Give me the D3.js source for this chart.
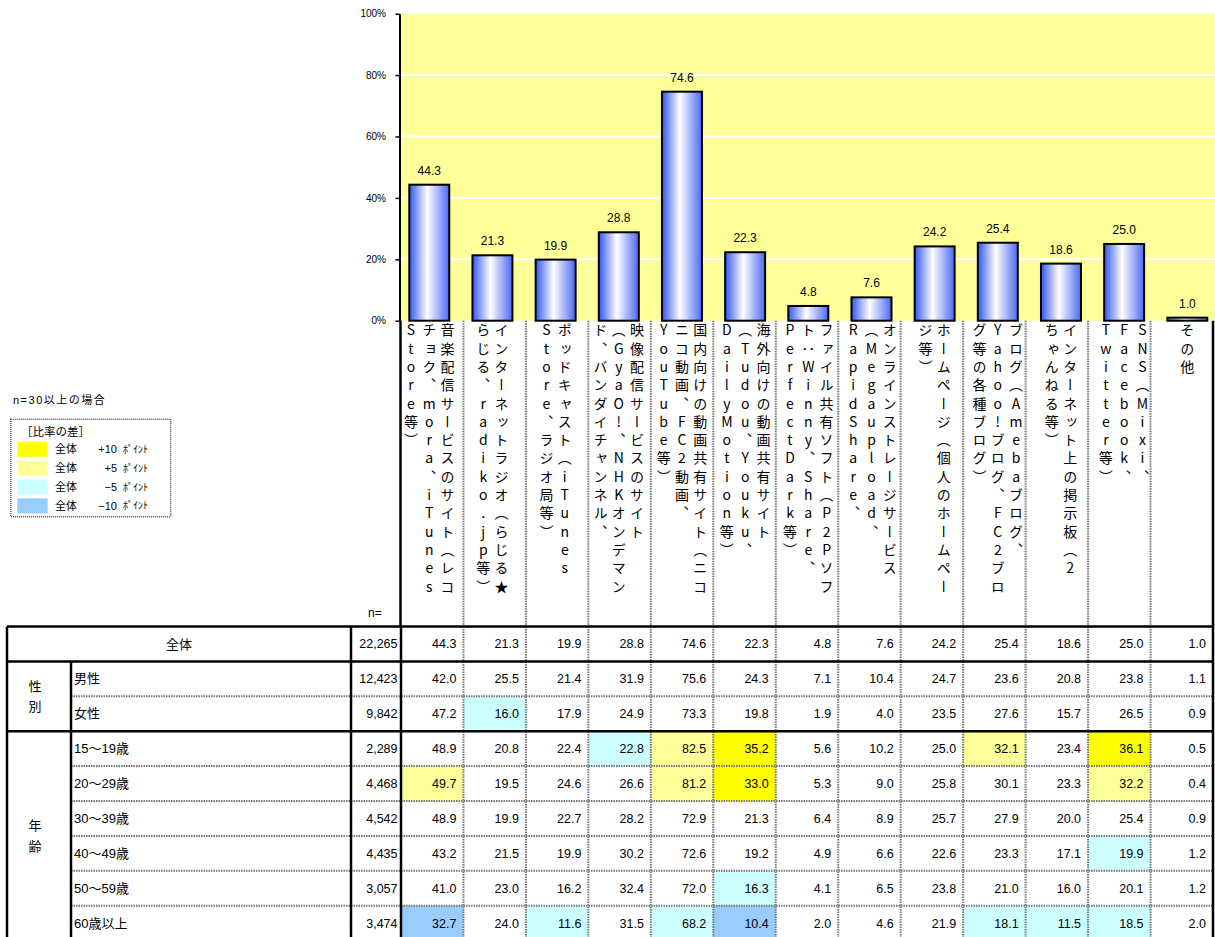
<!DOCTYPE html>
<html><head><meta charset="utf-8">
<script src="https://cdn.jsdelivr.net/npm/d3@7"></script>
<style>
body{margin:0;background:#fff}
svg{display:block}
text{font-family:"Liberation Sans","Noto Sans CJK JP",sans-serif;fill:#000}
</style>
</head><body>
<svg id="c" width="1215" height="937"></svg>
<script>
// ---------------- data ----------------
const categoryLabels = [
  ["音楽配信サービスのサイト（レコ","チョク、mora、iTunes","Store等）"],
  ["インターネットラジオ（らじる★","らじる、radiko.jp等）"],
  ["ポッドキャスト（iTunes","Store、ラジオ局等）"],
  ["映像配信サービスのサイト","（GyaO!、NHKオンデマン","ド、バンダイチャンネル、"],
  ["国内向けの動画共有サイト（ニコ","ニコ動画、FC2動画、","YouTube等）"],
  ["海外向けの動画共有サイト","（Tudou、Youku、","DailyMotion等）"],
  ["ファイル共有ソフト（P2Pソフ","ト：Winny、Share、","PerfectDark等）"],
  ["オンラインストレージサービス","（Megaupload、","RapidShare、"],
  ["ホームページ（個人のホームペー","ジ等）"],
  ["ブログ（Amebaブログ、","Yahoo!ブログ、FC2ブロ","グ等の各種ブログ）"],
  ["インターネット上の掲示板（2","ちゃんねる等）"],
  ["SNS（Mixi、","Facebook、","Twitter等）"],
  ["その他"]
];
const totalValues = [44.3,21.3,19.9,28.8,74.6,22.3,4.8,7.6,24.2,25.4,18.6,25.0,1.0];
const yTicks = [0,20,40,60,80,100];

const rowLabels = ["男性","女性","15～19歳","20～29歳","30～39歳","40～49歳","50～59歳","60歳以上"];
const rowGroups = ["性別","性別","年齢","年齢","年齢","年齢","年齢","年齢"];
const rowN = ["12,423","9,842","2,289","4,468","4,542","4,435","3,057","3,474"];
const totalN = "22,265";
const rowValues = [
  [42.0,25.5,21.4,31.9,75.6,24.3,7.1,10.4,24.7,23.6,20.8,23.8,1.1],
  [47.2,16.0,17.9,24.9,73.3,19.8,1.9,4.0,23.5,27.6,15.7,26.5,0.9],
  [48.9,20.8,22.4,22.8,82.5,35.2,5.6,10.2,25.0,32.1,23.4,36.1,0.5],
  [49.7,19.5,24.6,26.6,81.2,33.0,5.3,9.0,25.8,30.1,23.3,32.2,0.4],
  [48.9,19.9,22.7,28.2,72.9,21.3,6.4,8.9,25.7,27.9,20.0,25.4,0.9],
  [43.2,21.5,19.9,30.2,72.6,19.2,4.9,6.6,22.6,23.3,17.1,19.9,1.2],
  [41.0,23.0,16.2,32.4,72.0,16.3,4.1,6.5,23.8,21.0,16.0,20.1,1.2],
  [32.7,24.0,11.6,31.5,68.2,10.4,2.0,4.6,21.9,18.1,11.5,18.5,2.0]
];
const legendSigns = ["+10","+5","−5","−10"];
const legendThresholds = [10,5,-5,-10];
const legendColors = ["#FFFF00","#FFFF99","#CCFFFF","#99CCFF"];

// ---------------- drawing ----------------
const svg = d3.select("#c");
const idx = d3.range(categoryLabels.length);

const y = d3.scaleLinear().domain([0,100]).range([320.7,13.7]);
const xc = d3.scaleBand().domain(idx).range([397.7,1218.9]).paddingInner(0.367).paddingOuter(0.1835);
const xt = d3.scaleBand().domain(idx).range([401,1213]);

// gradient
const defs = svg.append("defs");
const g = defs.append("linearGradient").attr("id","barGrad").attr("x1","0").attr("x2","1").attr("y1","0").attr("y2","0");
g.append("stop").attr("offset","0").attr("stop-color","#3355f2");
g.append("stop").attr("offset","0.45").attr("stop-color","#ffffff");
g.append("stop").attr("offset","1").attr("stop-color","#4a68f5");

// plot background
svg.append("rect").attr("x",399).attr("y",y(100)).attr("width",1215-399).attr("height",y(0)-y(100)).attr("fill","#FFFF99");
// gridlines
svg.append("g").selectAll("line").data(yTicks.filter(d=>d>0&&d<100)).join("line")
  .attr("x1",400).attr("x2",1215).attr("y1",d=>y(d)).attr("y2",d=>y(d))
  .attr("stroke","#fff").attr("stroke-width",2);

// bars
svg.append("g").selectAll("rect").data(idx).join("rect")
  .attr("x",i=>xc(i)).attr("width",xc.bandwidth())
  .attr("y",i=>y(totalValues[i])).attr("height",i=>y(0)-y(totalValues[i]))
  .attr("fill","url(#barGrad)").attr("stroke","#000").attr("stroke-width",2);
// value labels
svg.append("g").selectAll("text").data(idx).join("text")
  .attr("x",i=>xc(i)+xc.bandwidth()/2).attr("y",i=>y(totalValues[i])-10)
  .attr("text-anchor","middle").attr("font-size",12)
  .text(i=>totalValues[i].toFixed(1));

// y axis
const ax = svg.append("g").attr("transform","translate(399.5,0)")
  .call(d3.axisLeft(y).tickValues(yTicks).tickFormat(d=>d+"%").tickSize(4).tickSizeOuter(0).tickPadding(9.5));
ax.select(".domain").attr("stroke","#000").attr("stroke-width",2);
ax.selectAll(".tick line").attr("stroke","#000").attr("stroke-width",1.5);
ax.selectAll(".tick text").attr("font-size",10).attr("font-family","Liberation Sans");

// axis line continues down into table
svg.append("line").attr("x1",400.5).attr("x2",400.5).attr("y1",y(0)).attr("y2",627).attr("stroke","#000").attr("stroke-width",2.5);
svg.append("line").attr("x1",1213).attr("x2",1213).attr("y1",y(0)).attr("y2",627).attr("stroke","#000").attr("stroke-width",2.5);
// label column separators
svg.append("g").selectAll("line").data(idx.slice(1)).join("line")
  .attr("x1",i=>xt(i)).attr("x2",i=>xt(i)).attr("y1",y(0)).attr("y2",627)
  .attr("stroke","#777").attr("stroke-width",2).attr("stroke-dasharray","1.5,1");

// vertical category labels
const pitch = 18.3;
const lab = svg.append("g");
idx.forEach(i=>{
  const cols = categoryLabels[i];
  const c = xc(i)+xc.bandwidth()/2;
  const n = cols.length;
  cols.forEach((s,j)=>{
    const cx = c + (n-1)*pitch/2 - j*pitch;
    lab.append("text")
      .attr("x",cx).attr("y",323)
      .attr("font-size",14)
      .style("font-family","'Noto Sans CJK JP'")
      .style("writing-mode","vertical-rl")
      .style("text-orientation","upright")
      .style("letter-spacing","4.3px")
      .text(s);
  });
});

svg.append("text").attr("x",368).attr("y",617).attr("font-size",12).text("n=");

// ---------------- table ----------------
const T = {left:7, grp:71, nL:351, nR:401, right:1213, top:626.5, rowH:34.9};
const ry = i => T.top + T.rowH*i; // i=0 全体
const tb = svg.append("g");

// highlight cells
rowValues.forEach((vals,r)=>{
  vals.forEach((v,i)=>{
    const d = v - totalValues[i];
    let col = null;
    if (d >= legendThresholds[0]) col = legendColors[0];
    else if (d >= legendThresholds[1]) col = legendColors[1];
    else if (d <= legendThresholds[3]) col = legendColors[3];
    else if (d <= legendThresholds[2]) col = legendColors[2];
    if (col) tb.append("rect").attr("x",xt(i)).attr("y",ry(r+1)).attr("width",xt.bandwidth()).attr("height",T.rowH).attr("fill",col);
  });
});

// dashed inner lines
const dash = (x1,y1,x2,y2)=>tb.append("line").attr("x1",x1).attr("y1",y1).attr("x2",x2).attr("y2",y2)
  .attr("stroke","#777").attr("stroke-width",2).attr("stroke-dasharray","1.5,1");
const solid = (x1,y1,x2,y2,w=2.5)=>tb.append("line").attr("x1",x1).attr("y1",y1).attr("x2",x2).attr("y2",y2)
  .attr("stroke","#000").attr("stroke-width",w);
idx.slice(1).forEach(i=>dash(xt(i),T.top,xt(i),940));
[2,4,5,6,7,8].forEach(r=>dash(T.grp,ry(r),T.right,ry(r)));
[0,1,3].forEach(r=>solid(T.left,ry(r),T.right,ry(r)));
solid(T.left,T.top,T.left,940);
solid(T.grp,ry(1),T.grp,940);
solid(T.nL,T.top,T.nL,940);
solid(T.nR,T.top,T.nR,940);
solid(T.right,T.top,T.right,940);

// 全体 row
tb.append("text").attr("x",(T.left+T.nL)/2).attr("y",ry(0)+T.rowH/2).attr("dy","0.35em")
  .attr("text-anchor","middle").attr("font-size",13).text("全体");
tb.append("text").attr("x",T.nR-3.5).attr("y",ry(0)+T.rowH/2).attr("dy","0.35em")
  .attr("text-anchor","end").attr("font-size",12.5).text(totalN);
idx.forEach(i=>tb.append("text").attr("x",xt(i)+xt.bandwidth()-7).attr("y",ry(0)+T.rowH/2).attr("dy","0.35em")
  .attr("text-anchor","end").attr("font-size",12.5).text(totalValues[i].toFixed(1)));

// group labels
const groups = Array.from(d3.group(rowGroups.map((g,r)=>({g,r})), d=>d.g), ([k,v])=>({k, r0:v[0].r, r1:v[v.length-1].r}));
groups.forEach(G=>{
  const cy = (ry(G.r0+1)+ry(G.r1+2))/2;
  const chars = Array.from(G.k);
  chars.forEach((ch,j)=>tb.append("text").attr("x",35).attr("y",cy + (j-(chars.length-1)/2)*20.5).attr("dy","0.35em")
    .attr("text-anchor","middle").attr("font-size",13).text(ch));
});

rowLabels.forEach((lab,r)=>{
  const cy = ry(r+1)+T.rowH/2;
  tb.append("text").attr("x",74).attr("y",cy).attr("dy","0.35em").attr("font-size",13).text(lab);
  tb.append("text").attr("x",T.nR-3.5).attr("y",cy).attr("dy","0.35em").attr("text-anchor","end").attr("font-size",12.5).text(rowN[r]);
  rowValues[r].forEach((v,i)=>tb.append("text").attr("x",xt(i)+xt.bandwidth()-7).attr("y",cy).attr("dy","0.35em")
    .attr("text-anchor","end").attr("font-size",12.5).text(v.toFixed(1)));
});

// ---------------- legend ----------------
const lg = svg.append("g");
lg.append("text").attr("x",13).attr("y",404).attr("font-size",11).style("letter-spacing","1.5px").text("n=30以上の場合");
lg.append("rect").attr("x",10.7).attr("y",419.3).attr("width",160).attr("height",97.4)
  .attr("fill","none").attr("stroke","#555").attr("stroke-width",1.5).attr("stroke-dasharray","1,1");
lg.append("text").attr("x",21).attr("y",436).attr("font-size",11.5).text("［比率の差］");
legendColors.forEach((c,k)=>{
  const yy = 441.7 + k*18.9;
  lg.append("rect").attr("x",17.3).attr("y",yy).attr("width",30.4).attr("height",15).attr("fill",c);
  lg.append("text").attr("x",55).attr("y",yy+7.5).attr("dy","0.35em").attr("font-size",11).text("全体");
  lg.append("text").attr("x",117).attr("y",yy+7.5).attr("dy","0.35em").attr("font-size",11).attr("text-anchor","end").text(legendSigns[k]);
  lg.append("text").attr("x",123).attr("y",yy+7.5).attr("dy","0.35em").attr("font-size",10).text("ﾎﾟｲﾝﾄ");
});
</script>
</body></html>
